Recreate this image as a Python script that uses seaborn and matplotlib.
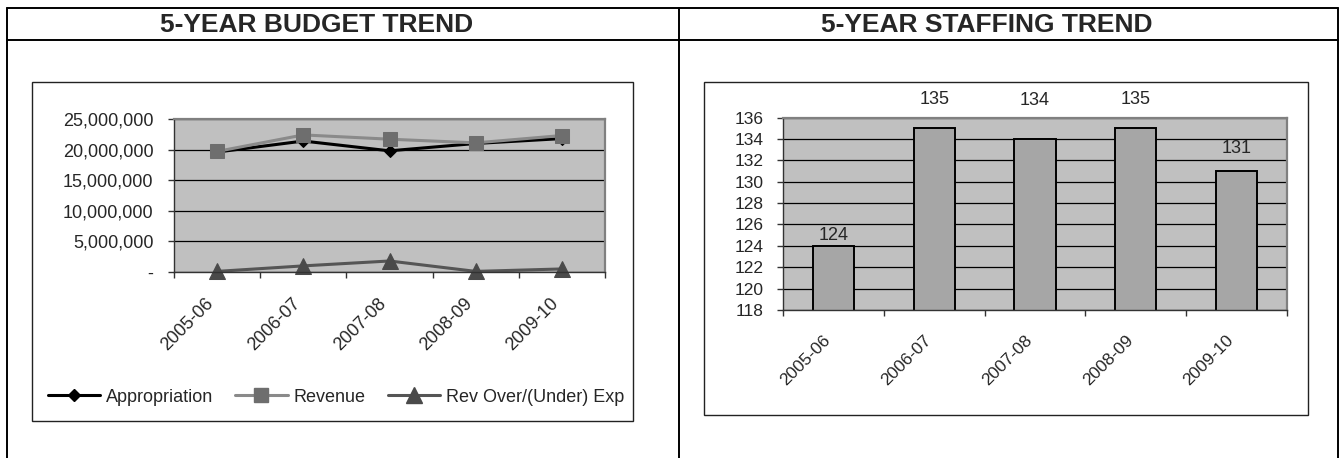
import matplotlib
matplotlib.use("Agg")
import matplotlib.pyplot as plt
from matplotlib.lines import Line2D
from matplotlib.patches import Rectangle
from matplotlib.ticker import FuncFormatter, FixedLocator
import seaborn as sns
import pandas as pd

# ---------------- data ----------------
years = ["2005-06", "2006-07", "2007-08", "2008-09", "2009-10"]
appropriation = [19_600_000, 21_400_000, 19_800_000, 21_000_000, 21_800_000]
revenue = [19_700_000, 22_400_000, 21_700_000, 21_100_000, 22_300_000]
rev_over_under = [100_000, 1_000_000, 1_800_000, 100_000, 500_000]
staffing = [124, 135, 134, 135, 131]
budget_ticks = [0, 5_000_000, 10_000_000, 15_000_000, 20_000_000, 25_000_000]
staff_ticks = list(range(118, 137, 2))

# ---------------- style ----------------
sns.set_style("white")
plt.rcParams["font.family"] = ["Liberation Sans", "DejaVu Sans"]

W, H = 1340, 458
fig = plt.figure(figsize=(W / 100, H / 100), dpi=100)
fig.patch.set_facecolor("white")


def rect(x0, y0, x1, y1):
    return [x0 / W, 1 - y1 / H, (x1 - x0) / W, (y1 - y0) / H]


def fx(x):
    return x / W


def fy(y):
    return 1 - y / H


def fline(x0, y0, x1, y1, lw=1.4, color="black"):
    fig.add_artist(Line2D([fx(x0), fx(x1)], [fy(y0), fy(y1)],
                          transform=fig.transFigure, color=color, lw=lw))


# table borders
fline(7, 8, 1338, 8)
fline(7, 40, 1338, 40)
fline(7, 8, 7, 458)
fline(679, 8, 679, 458)
fline(1338, 8, 1338, 458)

# titles
fig.text(fx(317), fy(25), "5-YEAR BUDGET TREND", ha="center", va="center",
         fontsize=19, fontweight="bold")
fig.text(fx(987), fy(25), "5-YEAR STAFFING TREND", ha="center", va="center",
         fontsize=19, fontweight="bold")

# chart frames
for (x0, y0, x1, y1) in [(32, 82, 633, 421), (704, 82, 1308, 415)]:
    fig.add_artist(Rectangle((fx(x0), fy(y1)), fx(x1) - fx(x0), fy(y0) - fy(y1),
                             transform=fig.transFigure, facecolor="white",
                             edgecolor="#222222", lw=1.0, zorder=0))

plot_bg = "#C0C0C0"


def style_axes(ax, fs, ypad):
    ax.set_facecolor(plot_bg)
    for s in ["left", "bottom"]:
        ax.spines[s].set_color("#333333")
        ax.spines[s].set_linewidth(1.0)
    for s in ["top", "right"]:
        ax.spines[s].set_color("#808080")
        ax.spines[s].set_linewidth(1.6)
    ax.grid(axis="y", color="black", lw=0.9)
    ax.grid(axis="x", visible=False)
    ax.set_axisbelow(True)
    ax.set_xlim(-0.5, 4.5)
    ax.set_xticks(range(len(years)))
    ax.set_xticklabels(years, rotation=45, ha="right", va="top", fontsize=fs)
    ax.xaxis.set_minor_locator(FixedLocator([i - 0.5 for i in range(len(years) + 1)]))
    ax.tick_params(axis="x", which="major", length=0, pad=16.5)
    ax.tick_params(axis="x", which="minor", length=4.3, width=1, color="#333333",
                   direction="out", bottom=True)
    ax.tick_params(axis="y", which="major", length=4.3, width=1, color="#333333",
                   direction="out", left=True, labelsize=fs, pad=ypad)
    ax.set_xlabel("")
    ax.set_ylabel("")


# ---------------- budget line chart ----------------
ax1 = fig.add_axes(rect(174, 119, 605, 272))
series = [
    ("Appropriation", appropriation, "black", "black", "D", 6.5),
    ("Revenue", revenue, "#8A8A8A", "#6E6E6E", "s", 10.5),
    ("Rev Over/(Under) Exp", rev_over_under, "#555555", "#4A4A4A", "^", 11),
]
handles = []
for name, vals, lc, mc, mk, ms in series:
    df = pd.DataFrame({"year": years, "value": vals})
    sns.lineplot(data=df, x="year", y="value", ax=ax1, color=lc, lw=2.2,
                 marker=mk, markersize=ms, markerfacecolor=mc,
                 markeredgecolor=mc, clip_on=False, sort=False)
    handles.append(Line2D([], [], color=lc, lw=2.2, marker=mk, markersize=ms,
                          markerfacecolor=mc, markeredgecolor=mc, label=name))
ax1.set_ylim(0, 25_000_000)
ax1.set_yticks(budget_ticks)
ax1.yaxis.set_major_formatter(FuncFormatter(lambda v, p: "-" if v == 0 else f"{int(v):,}"))
style_axes(ax1, 13, 10.5)
ax1.legend(handles=handles, loc="center", bbox_to_anchor=(fx(336), fy(397)),
           bbox_transform=fig.transFigure, ncol=3, frameon=False, fontsize=13,
           handlelength=2.9, handletextpad=0.35, columnspacing=1.2,
           borderpad=0, borderaxespad=0)

# ---------------- staffing bar chart ----------------
ax2 = fig.add_axes(rect(783, 117.5, 1287, 310))
sdf = pd.DataFrame({"year": years, "staff": staffing})
sns.barplot(data=sdf, x="year", y="staff", ax=ax2, color="#A6A6A6",
            saturation=1, width=0.41, edgecolor="black", linewidth=1.4)
ax2.set_ylim(118, 136)
ax2.set_yticks(staff_ticks)
style_axes(ax2, 12.5, 10)
label_offsets_px = [10, 29, 38, 29, 22]
for i, v in enumerate(staffing):
    ax2.annotate(str(v), xy=(i, v), xytext=(0, label_offsets_px[i] * 0.72),
                 textcoords="offset points", ha="center", va="center",
                 fontsize=13, annotation_clip=False)

fig.savefig("out.png", dpi=100, facecolor="white")
